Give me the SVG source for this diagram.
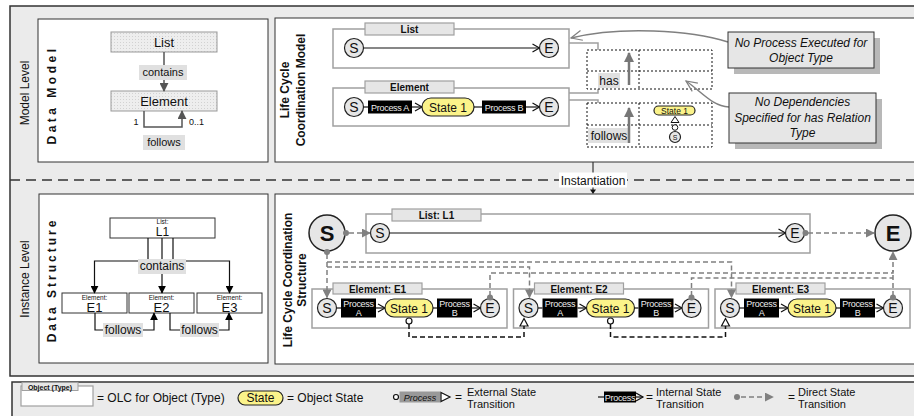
<svg xmlns="http://www.w3.org/2000/svg" width="914" height="416" viewBox="0 0 914 416">
<defs>
<style>
text{font-family:"Liberation Sans",Arial,sans-serif;fill:#111}
.frame{fill:#ebebeb;stroke:#333;stroke-width:1.5}
.panel{fill:#fff;stroke:#333;stroke-width:1}
.olc{fill:#fff;stroke:#a0a0a0;stroke-width:1.5}
.tab{fill:#e6e6e6;stroke:#a0a0a0;stroke-width:1.2}
.tabt{font-size:10px;font-weight:bold;text-anchor:middle}
.circ{fill:#e6e6e6;stroke:#222;stroke-width:1.2}
.ct{font-size:14px;text-anchor:middle}
.st{fill:#fbf38a;stroke:#222;stroke-width:1.2}
.stt{font-size:12px;text-anchor:middle}
.ln{stroke:#111;stroke-width:1.2;fill:none}
.pt{font-size:9px;fill:#eee;text-anchor:middle;letter-spacing:-0.3px}
.gd{stroke:#808080;stroke-width:1.5;fill:none;stroke-dasharray:5 3}
.bd{stroke:#111;stroke-width:1.5;fill:none;stroke-dasharray:5 3}
.lbl{fill:#e0e0e0}
.dot{stroke:#111;stroke-width:1;fill:none;stroke-dasharray:2 2}
.gl{stroke:#a0a0a0;stroke-width:1.5;fill:none}
.cal{fill:#e6e6e6;stroke:#333;stroke-width:1}
.sh{fill:#b8b8b8}
.it{font-size:12px;font-style:italic;text-anchor:middle}
.lt{font-size:12px}
.l2{font-size:11px}
</style>
<pattern id="dots" width="3" height="3" patternUnits="userSpaceOnUse"><rect width="3" height="3" fill="#eeeeee"/><rect width="1" height="1" fill="#d2d2d2"/></pattern>
<marker id="chev" markerWidth="10" markerHeight="10" refX="8" refY="5" orient="auto" markerUnits="userSpaceOnUse"><path d="M1,1 L8,5 L1,9" fill="none" stroke="#111" stroke-width="1.2"/></marker>
<marker id="gchev" markerWidth="14" markerHeight="14" refX="12" refY="7" orient="auto" markerUnits="userSpaceOnUse"><path d="M1,2 L12,7 L1,12" fill="none" stroke="#808080" stroke-width="1.2"/></marker>
<marker id="garr" viewBox="0 0 10 10" refX="9" refY="5" markerWidth="9" markerHeight="9" orient="auto" markerUnits="userSpaceOnUse"><path d="M0,0 L10,5 L0,10z" fill="#808080"/></marker>
<marker id="darr" viewBox="0 0 10 10" refX="9" refY="5" markerWidth="9" markerHeight="9" orient="auto" markerUnits="userSpaceOnUse"><path d="M0,0 L10,5 L0,10z" fill="#555"/></marker>
<marker id="barr" viewBox="0 0 10 10" refX="9" refY="5" markerWidth="8" markerHeight="8" orient="auto" markerUnits="userSpaceOnUse"><path d="M0,0 L10,5 L0,10z" fill="#000"/></marker>
<marker id="tarr" viewBox="0 0 10 10" refX="9" refY="5" markerWidth="10" markerHeight="10" orient="auto" markerUnits="userSpaceOnUse"><path d="M0,0 L10,5 L0,10z" fill="#777"/></marker>
</defs>
<rect width="914" height="416" fill="#fff"/>

<g id="frame">
<rect class="frame" x="10" y="6" width="910" height="370"/>
<line x1="10" y1="180" x2="914" y2="180" stroke="#333" stroke-width="1.5" stroke-dasharray="10 6"/>
<text class="lt" x="29" y="93" text-anchor="middle" transform="rotate(-90 29 93)" fill="#333">Model Level</text>
<text class="lt" x="29" y="279" text-anchor="middle" transform="rotate(-90 29 279)" fill="#333">Instance Level</text>
</g>

<g id="instantiation">
<line x1="593" y1="162" x2="593" y2="173" stroke="#111" stroke-width="1"/>
<rect x="559" y="172.5" width="68" height="15" fill="#fff"/>
<text class="lt" x="593" y="185" text-anchor="middle">Instantiation</text>
<line x1="593" y1="187.5" x2="593" y2="190" stroke="#111" stroke-width="1"/>
<polygon points="590,189.5 596,189.5 593,194" fill="#111"/>
</g>

<!-- Data Model -->
<g id="data-model">
<rect class="panel" x="38" y="19" width="230" height="143"/>
<text x="56" y="95" font-size="12" font-weight="bold" text-anchor="middle" letter-spacing="3.5" transform="rotate(-90 56 95)">Data Model</text>
<g id="dm-list"><rect x="111" y="32" width="106" height="20" fill="url(#dots)" stroke="#999"/><text x="164" y="47" font-size="13" text-anchor="middle">List</text></g>
<g id="dm-element"><rect x="111" y="91" width="106" height="20" fill="url(#dots)" stroke="#999"/><text x="164" y="106" font-size="13" text-anchor="middle">Element</text></g>
<g id="dm-conn">
<line x1="164" y1="52" x2="164" y2="91" stroke="#555" stroke-width="1.5" marker-end="url(#darr)"/>
<rect class="lbl" x="139" y="65" width="48" height="15"/>
<text x="163" y="76" font-size="11" text-anchor="middle">contains</text>
<path d="M144,111 V127 H182 V111" stroke="#555" stroke-width="1.5" fill="none" marker-end="url(#darr)"/>
<text x="136" y="125" font-size="9" text-anchor="middle">1</text>
<text x="189" y="125" font-size="9">0..1</text>
<rect class="lbl" x="143" y="135" width="42" height="15"/>
<text x="164" y="146" font-size="11" text-anchor="middle">follows</text>
</g>
</g>

<!-- Life Cycle Coordination Model -->
<g id="lcm">
<rect class="panel" x="275" y="18" width="645" height="144"/>
<text x="289" y="90" font-size="12" font-weight="bold" text-anchor="middle" transform="rotate(-90 289 90)">Life Cycle</text>
<text x="305" y="90" font-size="12" font-weight="bold" text-anchor="middle" transform="rotate(-90 305 90)">Coordination Model</text>
</g>
<g id="lcm-list">
<rect class="olc" x="333" y="29" width="236" height="39"/>
<rect class="tab" x="365" y="23" width="89" height="12"/>
<text class="tabt" x="409.5" y="33">List</text>
<line class="ln" x1="363.5" y1="48" x2="539.5" y2="48" marker-end="url(#chev)"/>
<circle class="circ" cx="354" cy="48" r="9.5"/><text class="ct" x="354" y="53">S</text>
<circle class="circ" cx="549" cy="48" r="9.5"/><text class="ct" x="549" y="53">E</text>
</g>
<g id="lcm-element">
<rect class="olc" x="333" y="88" width="236" height="38"/>
<rect class="tab" x="365" y="81" width="89" height="12"/>
<text class="tabt" x="409.5" y="91">Element</text>
<line class="ln" x1="363.5" y1="107" x2="368" y2="107"/>
<rect x="368" y="100.5" width="44" height="13" fill="#000"/>
<text class="pt" x="390" y="110.5" font-size="10">Process A</text>
<line class="ln" x1="412" y1="107" x2="422" y2="107" marker-end="url(#chev)"/>
<rect class="st" x="422" y="98" width="52" height="18" rx="9"/>
<text class="stt" x="448" y="111.5">State 1</text>
<line class="ln" x1="474" y1="107" x2="482" y2="107"/>
<rect x="482" y="100.5" width="44" height="13" fill="#000"/>
<text class="pt" x="504" y="110.5" font-size="10">Process B</text>
<line class="ln" x1="526" y1="107" x2="539.5" y2="107" marker-end="url(#chev)"/>
<circle class="circ" cx="354" cy="107" r="9.5"/><text class="ct" x="354" y="112">S</text>
<circle class="circ" cx="549" cy="107" r="9.5"/><text class="ct" x="549" y="112">E</text>
</g>
<g id="lcm-has">
<path class="gl" d="M569,43 H598 V50"/>
<path class="gl" d="M569,93 H598 V89"/>
<rect class="dot" x="587" y="50" width="125" height="39"/>
<line class="dot" x1="639" y1="50" x2="639" y2="89"/>
<line class="dot" x1="587" y1="71" x2="712" y2="71"/>
<rect class="lbl" x="598" y="73" width="22" height="15"/>
<text class="lt" x="609" y="85" text-anchor="middle">has</text>
<line x1="629" y1="85" x2="629" y2="53" stroke="#777" stroke-width="2.5" marker-end="url(#tarr)"/>
</g>
<g id="lcm-follows">
<path class="gl" d="M569,100 H598 V103"/>
<rect class="dot" x="587" y="103" width="125" height="44"/>
<line class="dot" x1="639" y1="103" x2="639" y2="147"/>
<line class="dot" x1="587" y1="125" x2="712" y2="125"/>
<rect class="lbl" x="588" y="128" width="42" height="15"/>
<text class="lt" x="609" y="140" text-anchor="middle">follows</text>
<line x1="629" y1="143" x2="629" y2="108" stroke="#777" stroke-width="2.5" marker-end="url(#tarr)"/>
<rect class="st" x="654" y="106" width="41" height="9" rx="4.5"/>
<text x="674.5" y="114" font-size="8.5" text-anchor="middle">State 1</text>
<polygon points="675,116.5 671,122.5 679,122.5" fill="#fff" stroke="#111" stroke-width="1"/>
<circle cx="675" cy="127.5" r="2.8" fill="#fff" stroke="#111" stroke-width="1"/>
<circle class="circ" cx="675" cy="137" r="5.5"/><text x="675" y="140" font-size="7" text-anchor="middle">S</text>
</g>
<g id="callout-1">
<path d="M728,42 C690,30 620,26 571,38" stroke="#808080" stroke-width="1.5" fill="none" marker-end="url(#gchev)"/>
<rect class="sh" x="734" y="38" width="146" height="36"/>
<rect class="cal" x="728" y="32" width="146" height="36"/>
<text class="it" x="801" y="47">No Process Executed for</text>
<text class="it" x="801" y="62">Object Type</text>
</g>
<g id="callout-2">
<path d="M729,107 C712,106 702,92 686,81" stroke="#808080" stroke-width="1.5" fill="none" marker-end="url(#gchev)"/>
<rect class="sh" x="735" y="99" width="147" height="50"/>
<rect class="cal" x="729" y="93" width="147" height="50"/>
<text class="it" x="802.5" y="106">No Dependencies</text>
<text class="it" x="802.5" y="122">Specified for has Relation</text>
<text class="it" x="802.5" y="137">Type</text>
</g>

<!-- Data Structure -->
<g id="data-structure">
<rect class="panel" x="39" y="194" width="229" height="169"/>
<text x="56" y="280" font-size="12" font-weight="bold" text-anchor="middle" letter-spacing="3" transform="rotate(-90 56 280)">Data Structure</text>
</g>
<g id="ds-l1"><rect class="panel" x="110" y="218" width="105" height="20"/><text x="162.5" y="224" font-size="6.5" text-anchor="middle">List:</text><text x="162.5" y="236" font-size="12" text-anchor="middle">L1</text></g>
<g id="ds-e1"><rect class="panel" x="62" y="293" width="65" height="20"/><text x="94.5" y="299.5" font-size="6.5" text-anchor="middle">Element:</text><text x="94.5" y="311.5" font-size="13" text-anchor="middle">E1</text></g>
<g id="ds-e2"><rect class="panel" x="129" y="293" width="65" height="20"/><text x="161.5" y="299.5" font-size="6.5" text-anchor="middle">Element:</text><text x="161.5" y="311.5" font-size="13" text-anchor="middle">E2</text></g>
<g id="ds-e3"><rect class="panel" x="197" y="293" width="65" height="20"/><text x="229.5" y="299.5" font-size="6.5" text-anchor="middle">Element:</text><text x="229.5" y="311.5" font-size="13" text-anchor="middle">E3</text></g>
<g id="ds-conn">
<path class="ln" d="M148,238 V261 H94.5 V293" marker-end="url(#barr)"/>
<path class="ln" d="M162,238 V293" marker-end="url(#barr)"/>
<path class="ln" d="M173,238 V261 H229.5 V293" marker-end="url(#barr)"/>
<rect class="lbl" x="138" y="259" width="48" height="15"/>
<text class="lt" x="162" y="270" text-anchor="middle">contains</text>
<path class="ln" d="M95,313 V330 H154 V313" marker-end="url(#barr)"/>
<path class="ln" d="M170,313 V330 H229 V313" marker-end="url(#barr)"/>
<rect class="lbl" x="103" y="323" width="40" height="14"/>
<text class="lt" x="123" y="334" text-anchor="middle">follows</text>
<rect class="lbl" x="180" y="323" width="39" height="14"/>
<text class="lt" x="199.5" y="334" text-anchor="middle">follows</text>
</g>

<!-- Life Cycle Coordination Structure -->
<g id="lcs">
<rect class="panel" x="275" y="194" width="645" height="170"/>
<text x="292" y="280" font-size="12" font-weight="bold" text-anchor="middle" transform="rotate(-90 292 280)">Life Cycle Coordination</text>
<text x="306" y="280" font-size="12" font-weight="bold" text-anchor="middle" transform="rotate(-90 306 280)">Structure</text>
</g>
<g id="lcs-list">
<rect class="olc" x="366" y="214" width="444" height="39"/>
<rect class="tab" x="392" y="209" width="89" height="12"/>
<text class="tabt" x="436.5" y="219">List: L1</text>
<line class="ln" x1="389.5" y1="233" x2="785.5" y2="233" marker-end="url(#chev)"/>
<circle class="circ" cx="380" cy="233" r="9.5"/><text class="ct" x="380" y="238">S</text>
<circle class="circ" cx="795" cy="233" r="9.5"/><text class="ct" x="795" y="238">E</text>
</g>
<g id="lcs-e1">
<rect class="olc" x="312" y="289" width="195" height="39"/>
<rect class="tab" x="333" y="283" width="89" height="11"/>
<text class="tabt" x="377.5" y="292.5">Element: E1</text>
<line class="ln" x1="336" y1="308" x2="341" y2="308"/>
<rect x="341" y="298.5" width="35" height="19" fill="#000"/>
<text class="pt" x="358.5" y="306.5">Process</text><text class="pt" x="358.5" y="316">A</text>
<line class="ln" x1="376" y1="308" x2="385" y2="308" marker-end="url(#chev)"/>
<rect class="st" x="385" y="299" width="48" height="18" rx="9"/>
<text class="stt" x="409" y="312.5">State 1</text>
<line class="ln" x1="433" y1="308" x2="437" y2="308"/>
<rect x="437" y="298.5" width="35" height="19" fill="#000"/>
<text class="pt" x="454.5" y="306.5">Process</text><text class="pt" x="454.5" y="316">B</text>
<line class="ln" x1="472" y1="308" x2="480.5" y2="308" marker-end="url(#chev)"/>
<circle class="circ" cx="327" cy="308" r="9.5"/><text class="ct" x="327" y="313">S</text>
<circle class="circ" cx="490" cy="308" r="9.5"/><text class="ct" x="490" y="313">E</text>
</g>
<g id="lcs-e2" transform="translate(201.5,0)">
<rect class="olc" x="312" y="289" width="195" height="39"/>
<rect class="tab" x="333" y="283" width="89" height="11"/>
<text class="tabt" x="377.5" y="292.5">Element: E2</text>
<line class="ln" x1="336" y1="308" x2="341" y2="308"/>
<rect x="341" y="298.5" width="35" height="19" fill="#000"/>
<text class="pt" x="358.5" y="306.5">Process</text><text class="pt" x="358.5" y="316">A</text>
<line class="ln" x1="376" y1="308" x2="385" y2="308" marker-end="url(#chev)"/>
<rect class="st" x="385" y="299" width="48" height="18" rx="9"/>
<text class="stt" x="409" y="312.5">State 1</text>
<line class="ln" x1="433" y1="308" x2="437" y2="308"/>
<rect x="437" y="298.5" width="35" height="19" fill="#000"/>
<text class="pt" x="454.5" y="306.5">Process</text><text class="pt" x="454.5" y="316">B</text>
<line class="ln" x1="472" y1="308" x2="480.5" y2="308" marker-end="url(#chev)"/>
<circle class="circ" cx="327" cy="308" r="9.5"/><text class="ct" x="327" y="313">S</text>
<circle class="circ" cx="490" cy="308" r="9.5"/><text class="ct" x="490" y="313">E</text>
</g>
<g id="lcs-e3" transform="translate(403,0)">
<rect class="olc" x="312" y="289" width="195" height="39"/>
<rect class="tab" x="333" y="283" width="89" height="11"/>
<text class="tabt" x="377.5" y="292.5">Element: E3</text>
<line class="ln" x1="336" y1="308" x2="341" y2="308"/>
<rect x="341" y="298.5" width="35" height="19" fill="#000"/>
<text class="pt" x="358.5" y="306.5">Process</text><text class="pt" x="358.5" y="316">A</text>
<line class="ln" x1="376" y1="308" x2="385" y2="308" marker-end="url(#chev)"/>
<rect class="st" x="385" y="299" width="48" height="18" rx="9"/>
<text class="stt" x="409" y="312.5">State 1</text>
<line class="ln" x1="433" y1="308" x2="437" y2="308"/>
<rect x="437" y="298.5" width="35" height="19" fill="#000"/>
<text class="pt" x="454.5" y="306.5">Process</text><text class="pt" x="454.5" y="316">B</text>
<line class="ln" x1="472" y1="308" x2="480.5" y2="308" marker-end="url(#chev)"/>
<circle class="circ" cx="327" cy="308" r="9.5"/><text class="ct" x="327" y="313">S</text>
<circle class="circ" cx="490" cy="308" r="9.5"/><text class="ct" x="490" y="313">E</text>
</g>
<g id="lcs-start"><circle cx="327" cy="233" r="18" fill="#e6e6e6" stroke="#222" stroke-width="1.5"/><text x="327" y="241" font-size="22" font-weight="bold" text-anchor="middle">S</text></g>
<g id="lcs-end"><circle cx="893" cy="233" r="18" fill="#e6e6e6" stroke="#222" stroke-width="1.5"/><text x="893" y="241" font-size="22" font-weight="bold" text-anchor="middle">E</text></g>

<g id="connectors">
<path class="gd" d="M349,233 H370" marker-end="url(#garr)"/>
<circle cx="346" cy="233" r="3" fill="#808080"/>
<path class="gd" d="M808,233 H874" marker-end="url(#garr)"/>
<circle cx="805.5" cy="233" r="3" fill="#808080"/>
<path class="gd" d="M327,254 V297.5" marker-end="url(#garr)"/>
<path class="gd" d="M327,262 H731.5 V297.5" marker-end="url(#garr)"/>
<path class="gd" d="M327,267 H529.5 V297.5" marker-end="url(#garr)"/>
<circle cx="327" cy="252" r="3" fill="#808080"/>
<path class="gd" d="M490,296 V273 H893 V252" marker-end="url(#garr)"/>
<path class="gd" d="M691.5,296 V278 H893"/>
<path class="gd" d="M893,296 V270"/>
<circle cx="490" cy="297.5" r="3" fill="#808080"/>
<circle cx="691.5" cy="297.5" r="3" fill="#808080"/>
<circle cx="893" cy="297.5" r="3" fill="#808080"/>
<path class="bd" d="M409,324 V337 H524 V326"/>
<circle cx="409" cy="321" r="3" fill="#fff" stroke="#111" stroke-width="1.2"/>
<polygon points="524,318.5 520,326 528,326" fill="#fff" stroke="#111" stroke-width="1.2"/>
<path class="bd" d="M610.5,324 V337 H725.5 V326"/>
<circle cx="610.5" cy="321" r="3" fill="#fff" stroke="#111" stroke-width="1.2"/>
<polygon points="725.5,318.5 721.5,326 729.5,326" fill="#fff" stroke="#111" stroke-width="1.2"/>
</g>

<!-- Legend -->
<g id="legend">
<rect class="frame" x="12" y="382" width="910" height="40"/>
<rect x="21" y="386" width="72" height="20" fill="#fff" stroke="#a0a0a0" stroke-width="1.2"/>
<rect x="22" y="382.5" width="56" height="8" fill="#e6e6e6" stroke="#a0a0a0" stroke-width="1"/>
<text x="50" y="389.5" font-size="7" font-weight="bold" text-anchor="middle">Object (Type)</text>
<text class="lt" x="97" y="402">= OLC for Object (Type)</text>
<rect class="st" x="238" y="391" width="45" height="14" rx="7"/>
<text class="stt" x="260.5" y="402">State</text>
<text class="lt" x="287" y="402">= Object State</text>
<circle cx="396" cy="397" r="2.5" fill="#fff" stroke="#111" stroke-width="1.2"/>
<rect x="399.5" y="391.5" width="41" height="11" fill="#999"/>
<text x="420" y="400.5" font-size="9" font-style="italic" fill="#eee" text-anchor="middle">Process</text>
<polygon points="441,392.5 450,397 441,401.5" fill="#fff" stroke="#111" stroke-width="1.2"/>
<text class="lt" x="455" y="401">=</text>
<text class="l2" x="467" y="396">External State</text>
<text class="l2" x="467" y="407.5">Transition</text>
<line class="ln" x1="598" y1="397" x2="604" y2="397"/>
<rect x="604" y="391.5" width="32" height="11" fill="#000"/>
<text class="pt" x="620" y="400.5">Process</text>
<line class="ln" x1="636" y1="397" x2="643" y2="397" marker-end="url(#chev)"/>
<text class="lt" x="646" y="401">=</text>
<text class="l2" x="656" y="396">Internal State</text>
<text class="l2" x="656" y="407.5">Transition</text>
<circle cx="737" cy="397" r="3" fill="#808080"/>
<path class="gd" d="M741,397 H773" marker-end="url(#garr)"/>
<text class="lt" x="788" y="401">=</text>
<text class="l2" x="798" y="396">Direct State</text>
<text class="l2" x="798" y="407.5">Transition</text>
</g>
</svg>
